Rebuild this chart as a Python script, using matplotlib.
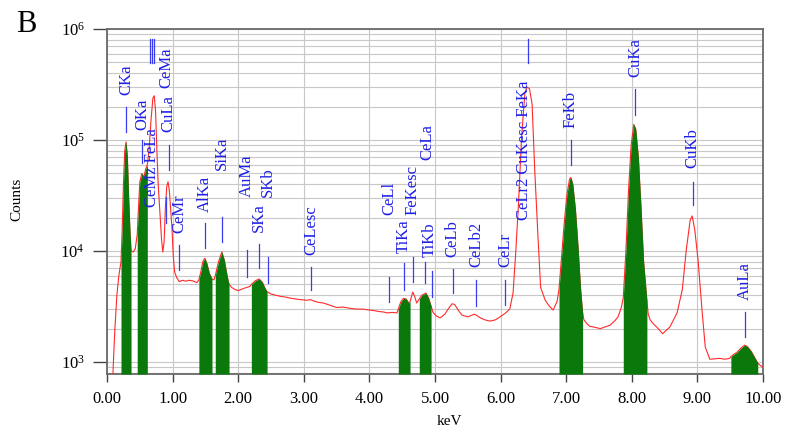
import matplotlib
matplotlib.use('Agg')
import matplotlib.pyplot as plt
from matplotlib.ticker import FixedLocator, LogLocator, NullFormatter, FuncFormatter
import numpy as np

plt.rcParams['font.family'] = ['Liberation Serif', 'DejaVu Serif']
plt.rcParams['mathtext.fontset'] = 'custom'
plt.rcParams['mathtext.rm'] = 'Liberation Serif'
plt.rcParams['mathtext.it'] = 'Liberation Serif:italic'

# ---- spectrum (keV, counts) ----
energy = [0.085, 0.09, 0.10, 0.12, 0.15, 0.18, 0.20,
          0.213, 0.23, 0.25, 0.27, 0.29, 0.31, 0.33, 0.35, 0.366,
          0.40, 0.43, 0.46,
          0.48, 0.50, 0.53, 0.56, 0.59, 0.614,
          0.64, 0.67, 0.70, 0.72, 0.74, 0.76, 0.78, 0.81, 0.83, 0.85, 0.87, 0.89,
          0.91, 0.93, 0.95, 0.97, 0.99, 1.01, 1.03, 1.06, 1.10, 1.15, 1.20, 1.25,
          1.30, 1.37,
          1.40, 1.43, 1.46, 1.49, 1.52, 1.56, 1.60, 1.63,
          1.65, 1.70, 1.75, 1.79, 1.83, 1.86, 1.90, 1.95, 2.00, 2.08, 2.13, 2.18,
          2.20, 2.26, 2.32, 2.37, 2.41, 2.44, 2.50, 2.57, 2.65, 2.72, 2.79, 2.87,
          2.95, 3.05, 3.10, 3.15, 3.22, 3.30, 3.40, 3.50, 3.60, 3.70, 3.80, 3.90,
          4.00, 4.08, 4.15, 4.22, 4.27, 4.35, 4.42,
          4.44, 4.48, 4.52, 4.56, 4.60, 4.62, 4.66, 4.69, 4.72,
          4.76, 4.80, 4.86, 4.90, 4.94, 4.97, 5.02, 5.08, 5.15, 5.20, 5.26, 5.30,
          5.36, 5.41, 5.50, 5.57, 5.60, 5.65, 5.70, 5.78, 5.84, 5.92, 5.99, 6.07,
          6.14, 6.19, 6.23, 6.27, 6.32, 6.37, 6.40, 6.44, 6.48, 6.52, 6.57, 6.61,
          6.68, 6.74, 6.80, 6.86,
          6.89, 6.93, 6.97, 7.01, 7.05, 7.07, 7.10, 7.14, 7.18, 7.22, 7.25,
          7.27, 7.32, 7.36, 7.45, 7.52, 7.60, 7.67, 7.74, 7.79, 7.84,
          7.87, 7.91, 7.95, 7.99, 8.03, 8.06, 8.10, 8.14, 8.18, 8.23,
          8.25, 8.28, 8.33, 8.38, 8.47, 8.58, 8.69, 8.77, 8.83, 8.89, 8.92, 8.96,
          9.01, 9.07, 9.12, 9.19, 9.26, 9.34, 9.42, 9.49,
          9.51, 9.56, 9.60, 9.66, 9.72, 9.76, 9.82, 9.88, 9.92,
          9.96, 10.0]
counts = [600, 780, 1100, 2000, 4000, 6000, 7200,
          8000, 15000, 40000, 80000, 96000, 70000, 30000, 15000, 10000,
          9800, 10500, 14000,
          25000, 42000, 50000, 46000, 55000, 60000,
          80000, 150000, 240000, 250000, 180000, 80000, 40000, 20000, 13000, 9800, 12000, 25000,
          38000, 42000, 35000, 24000, 16000, 9000, 6500, 5800, 5300, 5450, 5350, 5450,
          5400, 5200,
          5500, 6500, 8000, 8600, 7800, 6300, 5600, 5500,
          6000, 8000, 9800, 8200, 6000, 5000, 4700, 4500, 4400, 4600, 4700, 4800,
          5000, 5400, 5600, 5200, 4600, 4300, 4100, 4000, 3900, 3850, 3770, 3700,
          3650, 3600, 3650, 3550, 3450, 3400, 3250, 3100, 3130, 3050, 3000, 3000,
          2940, 2900, 2850, 2820, 2770, 2800, 2770,
          3000, 3500, 3750, 3700, 3400, 3500, 4270, 3900, 3400,
          3700, 4000, 4180, 3800, 3200, 2800, 2600, 2500, 2700, 3000, 3350, 3300,
          2900, 2650, 2550, 2650, 2700, 2600, 2480, 2380, 2340, 2400, 2550, 2750,
          3000, 4200, 9600, 25000, 106000, 265000, 300000, 290000, 210000, 54000, 13300, 4700,
          3600, 3200, 2940, 3500,
          4500, 9000, 18000, 32000, 44000, 46000, 40000, 24000, 11000, 4500, 2800,
          2400, 2200, 2100, 2050, 2000, 2080, 2150, 2350, 2550, 3100,
          3800, 10000, 35000, 90000, 138000, 125000, 70000, 25000, 8000, 3600,
          2700, 2400, 2200, 2070, 1800, 2070, 2770, 4500, 10200, 19000, 20700, 15500,
          8300, 2940, 1360, 1060, 1070, 1080, 1060, 1080,
          1120, 1180, 1220, 1330, 1420, 1380, 1250, 1080, 980,
          930, 900]

# green identified-peak windows (keV)
peak_lo = [0.213, 0.46, 1.40, 1.65, 2.20, 4.44, 4.76, 6.89, 7.87, 9.51]
peak_hi = [0.366, 0.614, 1.60, 1.86, 2.44, 4.62, 4.94, 7.25, 8.23, 9.92]

# element labels
label_names = ['CKa', 'OKa', 'CeMz FeLa', 'CeMa', 'CuLa', 'CeMr', 'AlKa', 'SiKa',
               'AuMa', 'SKa', 'SKb', 'CeLesc', 'CeLl', 'TiKa', 'FeKesc', 'CeLa',
               'TiKb', 'CeLb', 'CeLb2', 'CeLr', 'CeLr2 CuKesc FeKa', 'FeKb',
               'CuKa', 'CuKb', 'AuLa']
label_energy = [0.29, 0.534, 0.686, 0.90, 0.93, 1.10, 1.49, 1.75,
                2.13, 2.32, 2.45, 3.11, 4.30, 4.53, 4.66, 4.88,
                4.92, 5.27, 5.625, 6.07, 6.36, 7.07,
                8.05, 8.93, 9.73]
# layout: text bottom (axes fraction)
label_ybot = [0.809, 0.707, 0.484, 0.829, 0.701, 0.409, 0.470, 0.591,
              0.513, 0.412, 0.513, 0.345, 0.461, 0.351, 0.461, 0.620,
              0.339, 0.339, 0.310, 0.310, 0.446, 0.713,
              0.861, 0.597, 0.214]

# marker lines: energy, top, bottom (axes fraction)
mark_energy = [0.29, 0.534, 0.945, 0.655, 0.685, 0.715, 0.90, 1.10, 1.49, 1.75,
               2.13, 2.32, 2.45, 3.11, 4.30, 4.53, 4.66, 4.85, 4.95, 5.27,
               5.625, 6.07, 6.42, 7.07, 8.05, 8.93, 9.73]
mark_top = [0.774, 0.678, 0.664, 0.971, 0.971, 0.971, 0.513, 0.374, 0.438, 0.455,
            0.359, 0.377, 0.339, 0.310, 0.281, 0.322, 0.339, 0.325, 0.299, 0.304,
            0.272, 0.272, 0.971, 0.678, 0.826, 0.557, 0.180]
mark_bot = [0.701, 0.612, 0.591, 0.901, 0.901, 0.901, 0.438, 0.301, 0.365, 0.383,
            0.281, 0.307, 0.264, 0.243, 0.209, 0.243, 0.267, 0.264, 0.223, 0.235,
            0.197, 0.200, 0.901, 0.606, 0.751, 0.490, 0.107]

x_ticks = [0, 1, 2, 3, 4, 5, 6, 7, 8, 9, 10]

fig = plt.figure(figsize=(7.87, 4.38), dpi=100)
ax = fig.add_axes([0.136, 0.146, 0.8335, 0.788])

e = np.array(energy)
c = np.array(counts, dtype=float)
ymin, ymax = 780, 1e6

ax.set_yscale('log')
ax.set_xlim(0, 10)
ax.set_ylim(ymin, ymax)

ax.plot(e, c, color='#ff2a2a', lw=0.8, zorder=3)
for lo, hi in zip(peak_lo, peak_hi):
    m = (e >= lo - 1e-9) & (e <= hi + 1e-9)
    ax.fill_between(e[m], ymin, c[m], color='#0a780a', lw=0, zorder=4)

tr = ax.get_xaxis_transform()
for name, xe, yb in zip(label_names, label_energy, label_ybot):
    ax.text(xe, yb, name, rotation=90, ha='center', va='bottom', color='#1f1fe6',
            fontsize=12, transform=tr, zorder=5)
for xe, yt, yb in zip(mark_energy, mark_top, mark_bot):
    ax.plot([xe, xe], [yb, yt], color='#3a3af0', lw=0.9, transform=tr, zorder=5)

ax.xaxis.set_major_locator(FixedLocator(x_ticks))
ax.xaxis.set_major_formatter(FuncFormatter(lambda v, p: f'{v:.2f}'))
ax.yaxis.set_major_locator(FixedLocator([1e3, 1e4, 1e5, 1e6]))
ax.yaxis.set_minor_locator(LogLocator(base=10, subs=range(2, 10), numticks=20))
ax.yaxis.set_minor_formatter(NullFormatter())
ax.tick_params(axis='y', which='minor', length=0)
ax.tick_params(axis='y', which='major', length=10, width=1.0, color='#444444',
               labelsize=12, pad=6)
ax.tick_params(axis='x', which='major', length=6, width=1.0, color='#444444',
               labelsize=12, pad=6)
ax.grid(True, axis='y', which='both', color='#c8c8c8', lw=0.8, zorder=0)
ax.grid(True, axis='x', which='major', color='#c8c8c8', lw=0.8, zorder=0)
ax.set_axisbelow(True)
for s in ax.spines.values():
    s.set_color('#6a6a6a')
    s.set_linewidth(1.3)

fig.text(0.022, 0.544, 'Counts', rotation=90, ha='center', va='center', fontsize=11)
fig.text(0.571, 0.037, 'keV', ha='center', va='center', fontsize=11)
fig.text(0.033, 0.945, 'B', ha='center', va='center', fontsize=22)

fig.savefig('out.png', dpi=100)
